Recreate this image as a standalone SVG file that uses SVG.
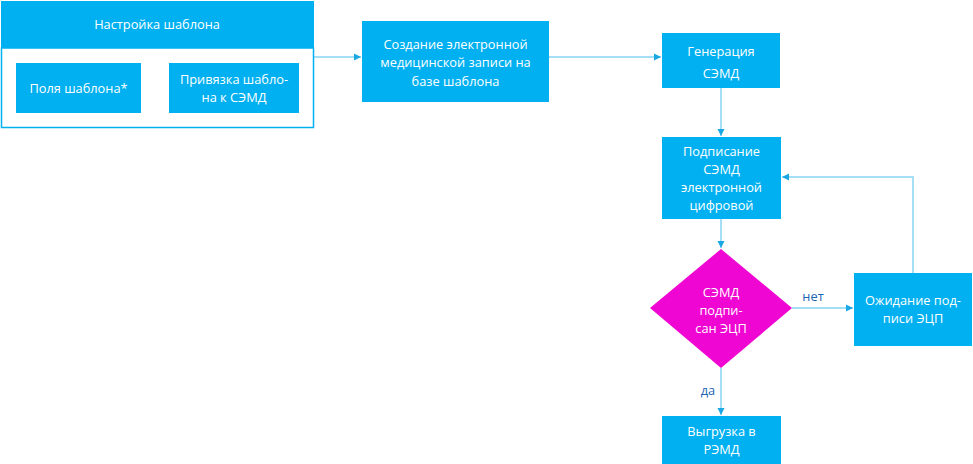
<svg xmlns="http://www.w3.org/2000/svg" width="973" height="464" viewBox="0 0 973 464">
<style>
.box{fill:#00b0f0}
.t{font-family:"Open Sans","Noto Sans",sans-serif;font-size:12.8px;fill:#ffffff;text-anchor:middle}
.lbl{font-family:"Open Sans","Noto Sans",sans-serif;font-size:12.8px;fill:#1a64b4;text-anchor:middle}
.c{fill:none;stroke:#86d4f5;stroke-width:1.5}
</style>
<defs>
<marker id="ah" markerWidth="8" markerHeight="8" refX="7" refY="4" orient="auto" markerUnits="userSpaceOnUse">
<path d="M0,0.5 L7,4 L0,7.5 Z" fill="#1aa7e4"/>
</marker>
</defs>
<rect width="973" height="464" fill="#ffffff"/>
<g id="connectors">
<path class="c" d="M313,57 H361" marker-end="url(#ah)"/>
<path class="c" d="M549,57 H661" marker-end="url(#ah)"/>
<path class="c" d="M721,88 V136" marker-end="url(#ah)"/>
<path class="c" d="M721,219 V248" marker-end="url(#ah)"/>
<path class="c" d="M792,308 H853" marker-end="url(#ah)"/>
<path class="c" d="M913,273 V177 H782" marker-end="url(#ah)"/>
<path class="c" d="M721,368 V415" marker-end="url(#ah)"/>
<text class="lbl" x="813" y="301">нет</text>
<text class="lbl" x="708" y="395">да</text>
</g>
<g id="template-setup">
<rect x="1.5" y="48" width="312" height="79.5" fill="#ffffff" stroke="#00b0f0" stroke-width="1.5"/>
<rect class="box" x="1" y="1" width="313" height="47"/>
<text class="t" x="157" y="29">Настройка шаблона</text>
</g>
<g id="template-fields">
<rect class="box" x="16" y="63" width="125" height="50"/>
<text class="t" x="78.5" y="93">Поля шаблона*</text>
</g>
<g id="template-binding">
<rect class="box" x="169" y="63" width="130" height="50"/>
<text class="t" x="234" y="84">Привязка шабло-</text>
<text class="t" x="234" y="102">на к СЭМД</text>
</g>
<g id="create-record">
<rect class="box" x="362" y="21" width="187" height="81"/>
<text class="t" x="455.5" y="49">Создание электронной</text>
<text class="t" x="455.5" y="67">медицинской записи на</text>
<text class="t" x="455.5" y="86">базе шаблона</text>
</g>
<g id="generate">
<rect class="box" x="662" y="33" width="118" height="55"/>
<text class="t" x="721" y="56">Генерация</text>
<text class="t" x="721" y="78">СЭМД</text>
</g>
<g id="sign">
<rect class="box" x="662" y="137" width="119" height="82"/>
<text class="t" x="721.5" y="156">Подписание</text>
<text class="t" x="721.5" y="174">СЭМД</text>
<text class="t" x="721.5" y="192">электронной</text>
<text class="t" x="721.5" y="210">цифровой</text>
</g>
<g id="decision">
<polygon points="721,249 792,308 721,368 650,308" fill="#f006d2"/>
<text class="t" x="721" y="297">СЭМД</text>
<text class="t" x="721" y="315">подпи-</text>
<text class="t" x="721" y="333">сан ЭЦП</text>
</g>
<g id="waiting">
<rect class="box" x="854" y="273" width="118" height="73"/>
<text class="t" x="913" y="305">Ожидание под-</text>
<text class="t" x="913" y="323">писи ЭЦП</text>
</g>
<g id="upload">
<rect class="box" x="662" y="416" width="119" height="48"/>
<text class="t" x="721.5" y="436">Выгрузка в</text>
<text class="t" x="721.5" y="454">РЭМД</text>
</g>
</svg>
